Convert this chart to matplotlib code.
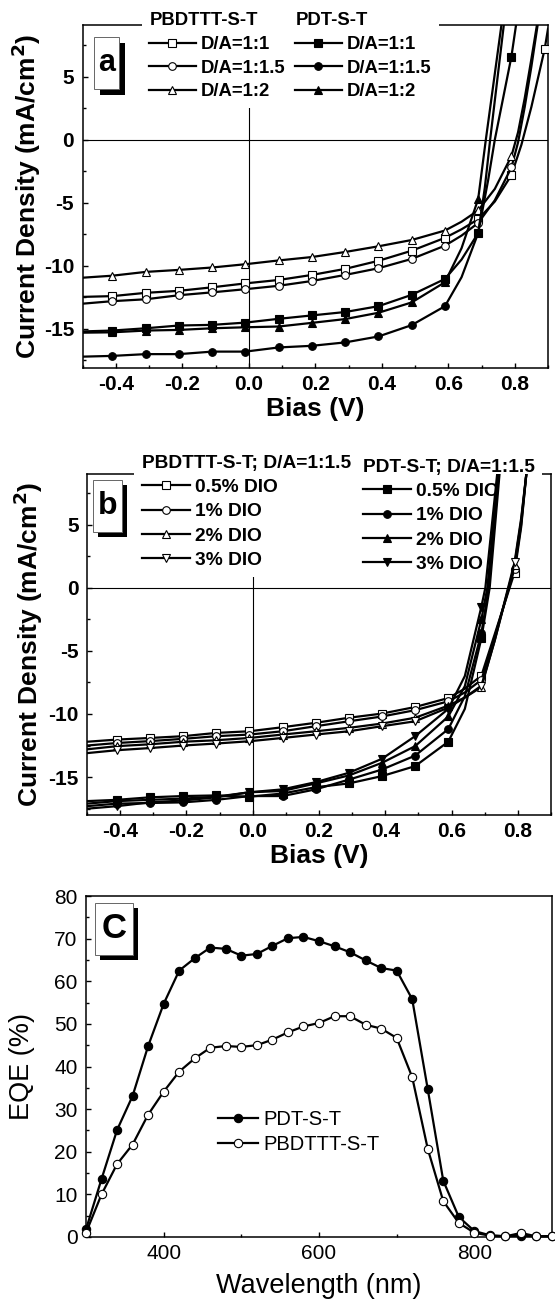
import matplotlib
matplotlib.use("Agg")
import numpy as np
import matplotlib.pyplot as plt
from matplotlib.patches import Rectangle
from matplotlib.ticker import MultipleLocator, FormatStrFormatter

plt.rcParams['font.family'] = ['Liberation Sans', 'DejaVu Sans']
plt.rcParams['axes.unicode_minus'] = False
plt.rcParams['mathtext.default'] = 'regular'

# ---------------- data ----------------
# bias grid shared by the J-V curves; markers sit on all but -0.5 and 0.64
bias = [-0.5, -0.41, -0.31, -0.21, -0.11, -0.01, 0.09, 0.19, 0.29, 0.39, 0.49, 0.59, 0.64, 0.69]
marked_bias = [-0.41, -0.31, -0.21, -0.11, -0.01, 0.09, 0.19, 0.29, 0.39, 0.49, 0.59, 0.69, 0.79, 0.89]

# panel a : D/A ratio
a_pb_11 = [-12.46, -12.4, -12.14, -11.98, -11.7, -11.39, -11.12, -10.72, -10.24, -9.6, -8.8, -7.78, -7.1, -6.3]
a_pb_11_tail = ([0.74, 0.79, 0.82, 0.85, 0.89, 0.9], [-4.9, -2.8, -0.4, 2.6, 7.2, 8.8])
a_pb_115 = [-13.0, -12.8, -12.65, -12.33, -12.1, -11.85, -11.58, -11.2, -10.72, -10.19, -9.45, -8.4, -7.6, -6.6]
a_pb_115_tail = ([0.74, 0.79, 0.81, 0.83, 0.85, 0.87], [-4.8, -2.2, -0.2, 2.6, 5.8, 9.3])
a_pb_12 = [-10.94, -10.78, -10.48, -10.32, -10.13, -9.87, -9.57, -9.3, -8.9, -8.45, -7.95, -7.2, -6.5, -5.6]
a_pb_12_tail = ([0.74, 0.79, 0.81, 0.83, 0.85, 0.868], [-3.9, -1.3, 0.6, 3.3, 6.4, 9.3])
a_pdt_11 = [-15.2, -15.13, -14.95, -14.73, -14.68, -14.5, -14.2, -13.93, -13.66, -13.2, -12.3, -11.04, -9.5, -7.4]
a_pdt_11_tail = ([0.72, 0.74, 0.79, 0.805], [-3.2, 0.0, 6.6, 9.3])
a_pdt_115 = [-17.2, -17.14, -17.0, -17.0, -16.8, -16.8, -16.47, -16.34, -16.07, -15.6, -14.7, -13.2, -10.9, -7.4]
a_pdt_115_tail = ([0.71, 0.726, 0.768], [-3.8, 0.0, 9.3])
a_pdt_12 = [-15.3, -15.27, -15.13, -15.08, -14.95, -14.87, -14.81, -14.52, -14.22, -13.72, -12.9, -11.3, -8.6, -4.7]
a_pdt_12_tail = ([0.713, 0.761], [0.0, 9.3])

# panel b : DIO content, D/A = 1:1.5
b_pb_05 = [-12.2, -12.03, -11.9, -11.76, -11.5, -11.37, -11.05, -10.7, -10.3, -9.97, -9.45, -8.74, -8.0, -6.97]
b_pb_05_tail = ([0.73, 0.79, 0.81, 0.826], [-3.7, 1.2, 4.8, 9.1])
b_pb_1 = [-12.5, -12.3, -12.15, -11.97, -11.76, -11.63, -11.37, -10.97, -10.58, -10.2, -9.7, -9.0, -8.3, -7.3]
b_pb_1_tail = ([0.73, 0.79, 0.81, 0.826], [-3.9, 1.5, 5.0, 9.1])
b_pb_2 = [-12.8, -12.55, -12.4, -12.2, -12.08, -11.9, -11.63, -11.37, -11.1, -10.76, -10.3, -9.34, -8.7, -7.87]
b_pb_2_tail = ([0.73, 0.79, 0.81, 0.826], [-4.2, 1.8, 5.3, 9.1])
b_pb_3 = [-13.1, -12.87, -12.7, -12.5, -12.34, -12.16, -11.9, -11.63, -11.37, -10.97, -10.58, -9.5, -8.7, -7.76]
b_pb_3_tail = ([0.73, 0.79, 0.81, 0.826], [-4.2, 2.0, 5.5, 9.1])
b_pdt_05 = [-16.9, -16.8, -16.6, -16.5, -16.45, -16.55, -16.3, -15.8, -15.5, -14.92, -14.13, -12.2, -9.6, -4.0]
b_pdt_05_tail = ([0.715, 0.745], [0.0, 9.1])
b_pdt_1 = [-17.3, -17.1, -17.05, -17.0, -16.8, -16.5, -16.5, -15.97, -15.2, -14.4, -13.3, -11.2, -8.6, -3.6]
b_pdt_1_tail = ([0.712, 0.743], [0.0, 9.1])
b_pdt_2 = [-17.1, -16.9, -16.8, -16.7, -16.55, -16.2, -16.1, -15.5, -14.87, -13.87, -12.55, -10.2, -7.8, -2.5]
b_pdt_2_tail = ([0.708, 0.741], [0.0, 9.1])
b_pdt_3 = [-17.5, -17.3, -17.0, -16.85, -16.6, -16.2, -15.97, -15.4, -14.66, -13.55, -11.76, -9.6, -7.0, -1.5]
b_pdt_3_tail = ([0.702, 0.738], [0.0, 9.1])

# panel c : EQE
wavelength = [300, 320, 340, 360, 380, 400, 420, 440, 460, 480, 500, 520, 540, 560, 580, 600,
              620, 640, 660, 680, 700, 720, 740, 760, 780, 800, 820, 840, 860, 880, 900]
eqe_pdt = [1.8, 13.6, 25.1, 33.1, 44.8, 54.7, 62.5, 65.4, 67.9, 67.6, 66.0, 66.4, 68.3, 70.1, 70.4, 69.4,
           68.2, 66.8, 64.9, 63.1, 62.5, 55.8, 34.7, 13.2, 4.7, 1.4, 0.4, 0.2, 0.3, 0.2, 0.2]
eqe_pbdttt = [1.0, 10.0, 17.1, 21.7, 28.7, 34.1, 38.8, 41.9, 44.4, 44.8, 44.6, 45.0, 46.3, 48.0, 49.4, 50.2,
              51.8, 51.8, 49.8, 48.9, 46.7, 37.5, 20.7, 8.4, 3.3, 1.0, 0.3, 0.15, 0.95, 0.15, 0.2]

# ---------------- figure ----------------
W, H = 555, 1299
fig = plt.figure(figsize=(W / 100, H / 100), dpi=100)


def axes_px(l, t, r, b):
    return fig.add_axes([l / W, 1 - b / H, (r - l) / W, (b - t) / H])


def letter_box(letter, x0, y0, x1, y1, off, size):
    sh = Rectangle(((x0 + off) / W, 1 - (y1 + off) / H), (x1 - x0) / W, (y1 - y0) / H,
                   transform=fig.transFigure, facecolor='black', edgecolor='none', zorder=20)
    bx = Rectangle((x0 / W, 1 - y1 / H), (x1 - x0) / W, (y1 - y0) / H,
                   transform=fig.transFigure, facecolor='white', edgecolor='0.4', lw=0.7, zorder=21)
    fig.patches.extend([sh, bx])
    fig.text((x0 + x1) / 2 / W, 1 - (y0 + y1) / 2 / H, letter, fontsize=size, fontweight='bold',
             ha='center', va='center', zorder=22)


def jv(ax, j, tail, marker, filled):
    v = bias + tail[0]
    y = j + tail[1]
    marks = [i for i, x in enumerate(v) if np.any(np.isclose(x, marked_bias))]
    line, = ax.plot(v, y, color='black', lw=1.6, marker=marker, markevery=marks, ms=5.5,
                    mfc='black' if filled else 'white', mec='black', mew=0.8, zorder=6)
    return line


def style_jv(ax):
    ax.set_xlim(-0.5, 0.9)
    ax.xaxis.set_major_locator(MultipleLocator(0.2))
    ax.xaxis.set_minor_locator(MultipleLocator(0.1))
    ax.xaxis.set_major_formatter(FormatStrFormatter('%.1f'))
    ax.yaxis.set_major_locator(MultipleLocator(5))
    ax.yaxis.set_minor_locator(MultipleLocator(2.5))
    ax.tick_params(which='both', direction='in', top=False, right=False, width=1.0)
    ax.tick_params(which='major', length=3.8, labelsize=15)
    ax.tick_params(which='minor', length=2.2)
    ax.tick_params(axis='x', pad=5)
    ax.tick_params(axis='y', pad=6)
    for lab in ax.get_xticklabels() + ax.get_yticklabels():
        lab.set_fontweight('bold')
    for s in ax.spines.values():
        s.set_linewidth(1.1)
    ax.axhline(0, color='black', lw=0.8, zorder=1)
    ax.axvline(0, color='black', lw=0.8, zorder=1)
    ax.set_xlabel('Bias (V)', fontsize=19, fontweight='bold')
    ax.set_ylabel('Current Density (mA/cm$^{\\mathbf{2}}$)', fontsize=19, fontweight='bold')


def bold_legend(ax, handles, labels, title, x, y, size):
    leg = ax.legend(handles, labels, title=title, loc='upper left', bbox_to_anchor=(x, y),
                    fontsize=size, title_fontproperties={'weight': 'bold', 'size': size},
                    alignment='left', borderpad=0.4, borderaxespad=0, handlelength=2.5,
                    handletextpad=0.3, labelspacing=0.36, framealpha=1, facecolor='white',
                    edgecolor='none', fancybox=False)
    for t in leg.get_texts():
        t.set_fontweight('bold')
    ax.add_artist(leg)
    return leg


# ---- panel a ----
ax1 = axes_px(82.5, 25, 548, 368)
ax1.set_ylim(-18.1, 9.1)
pa = [jv(ax1, a_pb_11, a_pb_11_tail, 's', False),
      jv(ax1, a_pb_115, a_pb_115_tail, 'o', False),
      jv(ax1, a_pb_12, a_pb_12_tail, '^', False)]
fa = [jv(ax1, a_pdt_11, a_pdt_11_tail, 's', True),
      jv(ax1, a_pdt_115, a_pdt_115_tail, 'o', True),
      jv(ax1, a_pdt_12, a_pdt_12_tail, '^', True)]
style_jv(ax1)
ax1.xaxis.set_label_coords(0.5, -0.085)
ax1.yaxis.set_label_coords(-0.085, 0.5)
labs_a = ['D/A=1:1', 'D/A=1:1.5', 'D/A=1:2']
bold_legend(ax1, pa, labs_a, 'PBDTTT-S-T', (142 - 82.5) / 465.5, (368 - 5) / 343, 13.3)
bold_legend(ax1, fa, labs_a, 'PDT-S-T', (288 - 82.5) / 465.5, (368 - 5) / 343, 13.3)
letter_box('a', 94, 37, 119, 89, 6, 22)

# ---- panel b ----
ax2 = axes_px(87, 474, 551, 815)
ax2.set_ylim(-18, 9)
pb = [jv(ax2, b_pb_05, b_pb_05_tail, 's', False),
      jv(ax2, b_pb_1, b_pb_1_tail, 'o', False),
      jv(ax2, b_pb_2, b_pb_2_tail, '^', False),
      jv(ax2, b_pb_3, b_pb_3_tail, 'v', False)]
fb = [jv(ax2, b_pdt_05, b_pdt_05_tail, 's', True),
      jv(ax2, b_pdt_1, b_pdt_1_tail, 'o', True),
      jv(ax2, b_pdt_2, b_pdt_2_tail, '^', True),
      jv(ax2, b_pdt_3, b_pdt_3_tail, 'v', True)]
style_jv(ax2)
ax2.xaxis.set_label_coords(0.5, -0.085)
ax2.yaxis.set_label_coords(-0.09, 0.5)
labs_b = ['0.5% DIO', '1% DIO', '2% DIO', '3% DIO']
bold_legend(ax2, pb, labs_b, 'PBDTTT-S-T; D/A=1:1.5', (134 - 87) / 464, (815 - 447) / 341, 13.8)
bold_legend(ax2, fb, labs_b, 'PDT-S-T; D/A=1:1.5', (355 - 87) / 464, (815 - 451) / 341, 13.8)
letter_box('b', 93, 480, 122, 532, 5, 23)

# ---- panel c ----
ax3 = axes_px(86, 896, 552, 1237)
ax3.plot(wavelength, eqe_pdt, color='black', lw=1.6, marker='o', ms=6, mfc='black', mec='black',
         mew=0.8, clip_on=False, label='PDT-S-T', zorder=5)
ax3.plot(wavelength, eqe_pbdttt, color='black', lw=1.6, marker='o', ms=6, mfc='white', mec='black',
         mew=0.8, clip_on=False, label='PBDTTT-S-T', zorder=5)
ax3.set_xlim(300, 900)
ax3.set_ylim(0, 80)
ax3.xaxis.set_major_locator(MultipleLocator(200))
ax3.xaxis.set_minor_locator(MultipleLocator(100))
ax3.yaxis.set_major_locator(MultipleLocator(10))
ax3.yaxis.set_minor_locator(MultipleLocator(5))
ax3.tick_params(which='both', direction='in', top=False, right=False, width=1.0)
ax3.tick_params(which='major', length=3.8, labelsize=15)
ax3.tick_params(which='minor', length=2.2)
ax3.tick_params(axis='x', pad=5)
ax3.tick_params(axis='y', pad=6)
for s in ax3.spines.values():
    s.set_linewidth(1.1)
ax3.set_xlabel('Wavelength (nm)', fontsize=19.5)
ax3.set_ylabel('EQE (%)', fontsize=19.5)
ax3.xaxis.set_label_coords(0.5, -0.105)
ax3.yaxis.set_label_coords(-0.11, 0.5)
ax3.legend(loc='upper left', bbox_to_anchor=((212 - 86) / 466, (1237 - 1104) / 341), fontsize=14.5,
           frameon=False, handlelength=2.0, handletextpad=0.25, labelspacing=0.28, borderpad=0.3,
           borderaxespad=0)
letter_box('C', 95, 903, 133, 955, 5, 25)

fig.savefig('out.png', dpi=100)
